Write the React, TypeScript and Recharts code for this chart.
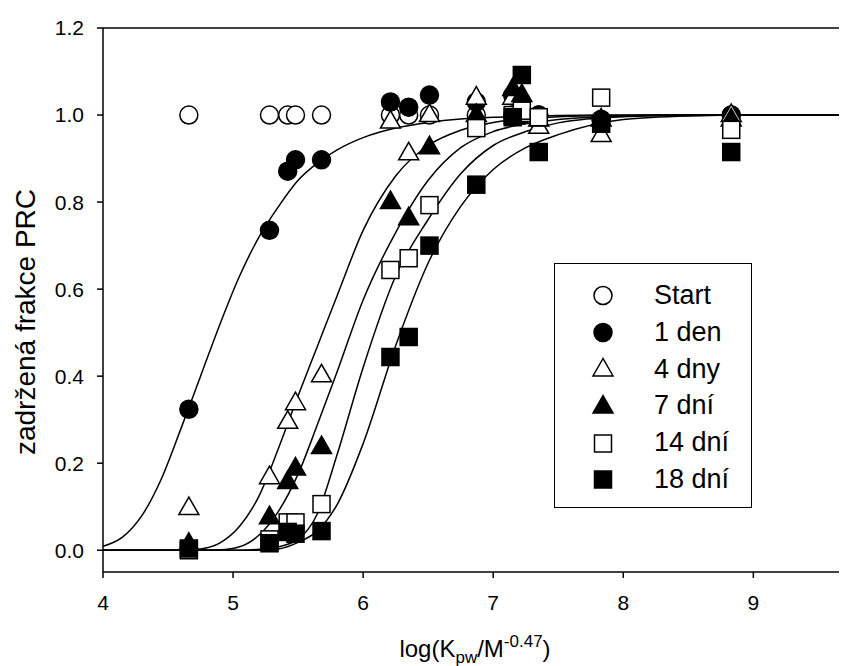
import { ComposedChart, Legend, Line, ReferenceLine, Scatter, XAxis, YAxis } from "recharts"

const FONT = '"Liberation Sans", Arial, Helvetica, sans-serif'

// measured compounds, log(Kpw/M^-0.47)
const compoundX = [4.66, 5.28, 5.42, 5.48, 5.68, 6.21, 6.35, 6.51, 6.87, 7.15, 7.22, 7.35, 7.83, 8.83]

const startY = [1.0, 1.0, 1.0, 1.0, 1.0, 1.0, 1.0, 1.0, 1.0, 1.0, 1.0, 1.0, 0.99, 1.0]
const den1Y = [0.324, 0.735, 0.871, 0.897, 0.897, 1.03, 1.018, 1.046, 1.03, 1.045, 1.0, 1.0, 0.99, 1.0]
const dny4Y = [0.097, 0.168, 0.295, 0.338, 0.402, 0.985, 0.912, 1.0, 1.04, 1.04, 1.0, 0.973, 0.954, 1.0]
const dni7Y = [0.015, 0.076, 0.157, 0.188, 0.237, 0.8, 0.763, 0.926, 1.0, 1.06, 1.046, 0.99, 0.99, 0.99]
const dni14Y = [0.0, 0.025, 0.064, 0.064, 0.106, 0.644, 0.671, 0.793, 0.97, 1.0, 1.01, 0.995, 1.04, 0.966]
const dni18Y = [0.004, 0.016, 0.042, 0.038, 0.044, 0.444, 0.49, 0.7, 0.84, 0.995, 1.092, 0.915, 0.98, 0.915]

// fitted curves
const curveX = [4.0, 4.15, 4.3, 4.45, 4.6, 4.75, 4.9, 5.05, 5.2, 5.35, 5.5, 5.65, 5.8, 6.0, 6.25, 6.5, 6.75, 7.0, 7.25, 7.5, 8.0, 8.5, 9.0, 9.72]
const fit1den = [0.009, 0.03, 0.08, 0.165, 0.28, 0.4, 0.52, 0.63, 0.72, 0.79, 0.85, 0.89, 0.92, 0.948, 0.97, 0.983, 0.991, 0.995, 0.997, 0.999, 1, 1, 1, 1]
const fit4dny = [0, 0, 0, 0, 0, 0.003, 0.017, 0.055, 0.125, 0.235, 0.355, 0.47, 0.585, 0.735, 0.86, 0.93, 0.965, 0.983, 0.992, 0.996, 0.999, 1, 1, 1]
const fit7dni = [0, 0, 0, 0, 0, 0, 0.001, 0.008, 0.035, 0.09, 0.175, 0.29, 0.41, 0.575, 0.73, 0.85, 0.925, 0.962, 0.98, 0.99, 0.998, 1, 1, 1]
const fit14dni = [0, 0, 0, 0, 0, 0, 0, 0, 0.002, 0.008, 0.025, 0.085, 0.22, 0.42, 0.63, 0.76, 0.865, 0.93, 0.962, 0.982, 0.996, 0.999, 1, 1]
const fit18dni = [0, 0, 0, 0, 0, 0, 0, 0, 0, 0.003, 0.018, 0.045, 0.105, 0.245, 0.47, 0.66, 0.79, 0.875, 0.925, 0.955, 0.99, 0.998, 1, 1]

const xTicks = [4, 5, 6, 7, 8, 9]
const yTicks = [0, 0.2, 0.4, 0.6, 0.8, 1.0, 1.2]

const points = (ys: number[]) => compoundX.map((x, i) => ({ x, y: ys[i] }))
const curve = (ys: number[]) => curveX.map((x, i) => ({ x, y: ys[i] }))

type Kind = "circle" | "triangle" | "square"

function Marker({ cx, cy, kind, filled }: { cx: number; cy: number; kind: Kind; filled: boolean }) {
  const fill = filled ? "#000" : "#fff"
  const common = { fill, stroke: "#000", strokeWidth: 1.5 }
  if (kind === "circle") return <circle cx={cx} cy={cy} r={9} {...common} />
  if (kind === "square") return <rect x={cx - 8.5} y={cy - 8.5} width={17} height={17} {...common} />
  return <polygon points={`${cx},${cy - 11} ${cx - 10},${cy + 6.5} ${cx + 10},${cy + 6.5}`} {...common} />
}

const seriesList: { name: string; data: number[]; kind: Kind; filled: boolean }[] = [
  { name: "Start", data: startY, kind: "circle", filled: false },
  { name: "1 den", data: den1Y, kind: "circle", filled: true },
  { name: "4 dny", data: dny4Y, kind: "triangle", filled: false },
  { name: "7 dní", data: dni7Y, kind: "triangle", filled: true },
  { name: "14 dní", data: dni14Y, kind: "square", filled: false },
  { name: "18 dní", data: dni18Y, kind: "square", filled: true },
]

const fits = [fit1den, fit4dny, fit7dni, fit14dni, fit18dni]

function LegendBox() {
  return (
    <div
      style={{
        width: 198,
        height: 245,
        boxSizing: "border-box",
        border: "1.5px solid #000",
        background: "#fff",
        paddingTop: 13,
        fontFamily: FONT,
      }}
    >
      {seriesList.map((s) => (
        <div key={s.name} style={{ position: "relative", height: 36.8 }}>
          <svg width={24} height={24} style={{ position: "absolute", left: 36, top: 6.4 }}>
            <Marker cx={12} cy={12.5} kind={s.kind} filled={s.filled} />
          </svg>
          <span style={{ position: "absolute", left: 99, top: 0, lineHeight: "36.8px", fontSize: 27, color: "#000" }}>
            {s.name}
          </span>
        </div>
      ))}
    </div>
  )
}

function XTitle(props: any) {
  const { viewBox } = props
  const cx = viewBox.x + viewBox.width / 2
  const y = viewBox.y + 85
  return (
    <text x={cx} y={y} textAnchor="middle" fontFamily={FONT} fontSize={24} fill="#000">
      <tspan>log(K</tspan>
      <tspan dy={6} fontSize={17}>pw</tspan>
      <tspan dy={-6}>/M</tspan>
      <tspan dy={-10} fontSize={17}>-0.47</tspan>
      <tspan dy={10}>)</tspan>
    </text>
  )
}

function YTitle(props: any) {
  const { viewBox } = props
  const x = viewBox.x + 17
  const y = 314
  return (
    <text
      x={x}
      y={y}
      transform={`rotate(-90, ${x}, ${y})`}
      textAnchor="middle"
      dominantBaseline="central"
      fontFamily={FONT}
      fontSize={28}
      fill="#000"
    >
      zadržená frakce PRC
    </text>
  )
}

export default function App() {
  const tickStyle = { fill: "#000", fontSize: 21, fontFamily: FONT }
  return (
    <>
      <style>{"html,body{overflow:hidden}"}</style>
      <ComposedChart width={839} height={658} margin={{ top: 20, right: 0, bottom: 14, left: 0 }}>
        <XAxis
          dataKey="x"
          type="number"
          domain={[4, 9.72]}
          allowDataOverflow
          ticks={xTicks}
          interval={0}
          height={80}
          tickSize={6}
          tickMargin={17}
          tick={tickStyle}
          axisLine={{ stroke: "#000", strokeWidth: 1.5 }}
          tickLine={{ stroke: "#000", strokeWidth: 1.5 }}
          label={{ content: XTitle }}
        />
        <YAxis
          dataKey="y"
          type="number"
          domain={[-0.05, 1.2]}
          allowDataOverflow
          ticks={yTicks}
          interval={0}
          width={95}
          tickSize={6}
          tickMargin={13}
          tick={tickStyle}
          tickFormatter={(v: number) => v.toFixed(1)}
          axisLine={{ stroke: "#000", strokeWidth: 1.5 }}
          tickLine={{ stroke: "#000", strokeWidth: 1.5 }}
          label={{ content: YTitle }}
        />
        <ReferenceLine y={1.2} stroke="#000" strokeWidth={1.5} />
        {fits.map((f, i) => (
          <Line
            key={`fit-${i}`}
            data={curve(f)}
            dataKey="y"
            type="monotone"
            stroke="#000"
            strokeWidth={1.5}
            dot={false}
            activeDot={false}
            legendType="none"
            isAnimationActive={false}
          />
        ))}
        {seriesList.map((s) => (
          <Scatter
            key={s.name}
            name={s.name}
            data={points(s.data)}
            dataKey="y"
            isAnimationActive={false}
            shape={(p: any) => <Marker cx={p.cx} cy={p.cy} kind={s.kind} filled={s.filled} />}
          />
        ))}
        <Legend
          layout="vertical"
          align="center"
          verticalAlign="middle"
          content={() => <LegendBox />}
          wrapperStyle={{ position: "absolute", left: 546, top: 255, width: 198, height: 245 }}
        />
      </ComposedChart>
    </>
  )
}
